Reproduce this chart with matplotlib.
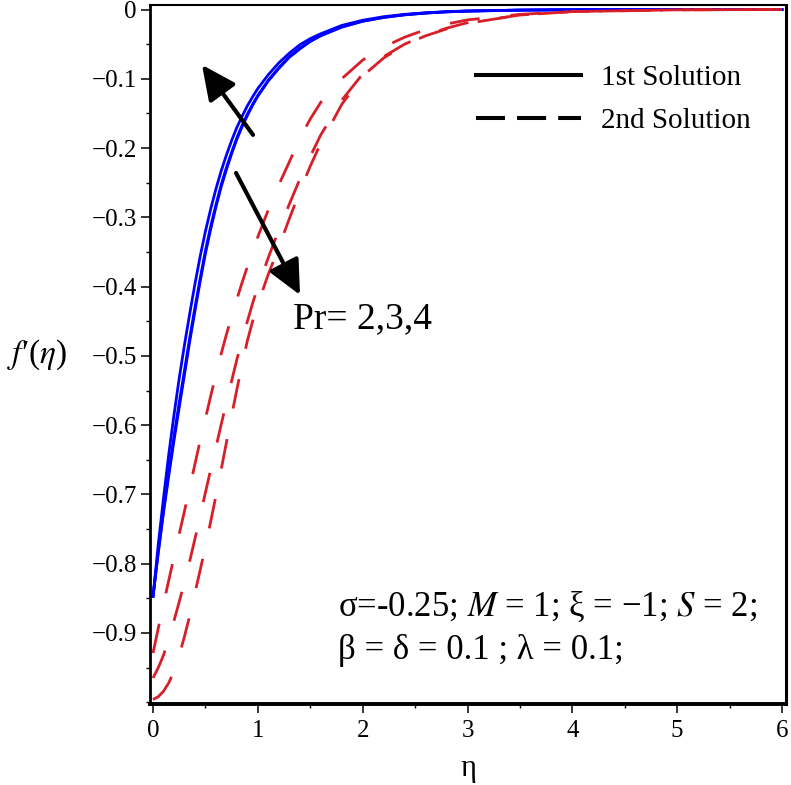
import matplotlib
matplotlib.use("Agg")
import matplotlib.pyplot as plt
from matplotlib.lines import Line2D
from matplotlib.ticker import FixedLocator, FixedFormatter, MultipleLocator

# Valores: f'(eta) para Pr = 2, 3, 4
eta = [0, 0.05, 0.1, 0.15, 0.2, 0.25, 0.3, 0.35, 0.4, 0.45, 0.5, 0.55, 0.6, 0.65,
       0.7, 0.75, 0.8, 0.85, 0.9, 0.95, 1.0, 1.1, 1.2, 1.3, 1.4, 1.5, 1.6, 1.8,
       2.0, 2.2, 2.4, 2.6, 2.8, 3.0, 3.5, 4.0, 5.0, 6.0]

# primeira solucao (linhas azuis cheias)
first_pr4 = [-0.847, -0.772, -0.705, -0.642, -0.585, -0.532, -0.484, -0.439, -0.396,
             -0.356, -0.320, -0.288, -0.259, -0.233, -0.210, -0.189, -0.170, -0.154,
             -0.139, -0.126, -0.114, -0.094, -0.077, -0.063, -0.051, -0.042, -0.035,
             -0.023, -0.0155, -0.0104, -0.007, -0.0047, -0.0031, -0.0021, -0.0008,
             -0.0003, 0.0, 0.0]
first_pr3 = [-0.847, -0.782, -0.722, -0.667, -0.616, -0.567, -0.521, -0.474, -0.430,
             -0.388, -0.348, -0.313, -0.282, -0.253, -0.228, -0.206, -0.185, -0.167,
             -0.151, -0.137, -0.124, -0.102, -0.084, -0.068, -0.056, -0.046, -0.037,
             -0.025, -0.0168, -0.0113, -0.0076, -0.0051, -0.0034, -0.0023, -0.0009,
             -0.0003, 0.0, 0.0]
first_pr2 = [-0.847, -0.784, -0.726, -0.673, -0.622, -0.574, -0.527, -0.479, -0.435,
             -0.392, -0.352, -0.317, -0.285, -0.256, -0.231, -0.208, -0.187, -0.169,
             -0.153, -0.138, -0.125, -0.103, -0.085, -0.069, -0.057, -0.046, -0.038,
             -0.0255, -0.017, -0.0115, -0.0077, -0.0052, -0.0034, -0.0023, -0.0009,
             -0.0003, 0.0, 0.0]

# segunda solucao (linhas vermelhas tracejadas)
second_pr2 = [-0.929, -0.893, -0.858, -0.824, -0.790, -0.757, -0.724, -0.690, -0.656,
              -0.622, -0.590, -0.558, -0.527, -0.497, -0.469, -0.443, -0.418, -0.394,
              -0.371, -0.349, -0.328, -0.289, -0.253, -0.220, -0.186, -0.158, -0.134,
              -0.100, -0.073, -0.054, -0.040, -0.029, -0.021, -0.015, -0.007, -0.003,
              -0.0005, 0.0]
second_pr3 = [-0.965, -0.950, -0.932, -0.908, -0.882, -0.855, -0.826, -0.796, -0.764,
              -0.731, -0.697, -0.664, -0.632, -0.599, -0.567, -0.536, -0.505, -0.477,
              -0.450, -0.424, -0.400, -0.358, -0.318, -0.281, -0.245, -0.212, -0.181,
              -0.131, -0.093, -0.068, -0.050, -0.037, -0.027, -0.019, -0.008, -0.003,
              -0.0005, 0.0]
second_pr4 = [-0.996, -0.992, -0.984, -0.972, -0.955, -0.932, -0.905, -0.875, -0.842,
              -0.809, -0.775, -0.739, -0.702, -0.664, -0.625, -0.586, -0.548, -0.512,
              -0.478, -0.450, -0.425, -0.382, -0.343, -0.302, -0.263, -0.226, -0.193,
              -0.137, -0.096, -0.070, -0.051, -0.038, -0.028, -0.020, -0.008, -0.003,
              -0.0005, 0.0]

xtick_values = [0, 1, 2, 3, 4, 5, 6]
xtick_labels = ['0', '1', '2', '3', '4', '5', '6']
ytick_values = [0, -0.1, -0.2, -0.3, -0.4, -0.5, -0.6, -0.7, -0.8, -0.9]
ytick_labels = ['0', '\u22120.1', '\u22120.2', '\u22120.3', '\u22120.4', '\u22120.5',
                '\u22120.6', '\u22120.7', '\u22120.8', '\u22120.9']

legend_labels = ['1st Solution', '2nd Solution']
params_line1 = '\u03c3=-0.25; $M$ = 1; \u03be = \u22121; $S$ = 2;'
params_line2 = '\u03b2 = \u03b4 = 0.1 ; \u03bb = 0.1;'

BLUE = '#0000ff'
RED = '#d81e28'


def plot_velocity_profile():
    plt.rcParams['font.family'] = ['Liberation Serif', 'DejaVu Serif']
    plt.rcParams['mathtext.fontset'] = 'stix'

    fig = plt.figure(figsize=(7.91, 7.85), dpi=100)
    ax = fig.add_axes([150 / 791, 1 - 704 / 785, 636 / 791, 699 / 785])

    # curvas
    for ys in (first_pr2, first_pr3, first_pr4):
        ax.plot(eta, ys, color=BLUE, lw=2.0)
    for ys in (second_pr2, second_pr3, second_pr4):
        ax.plot(eta, ys, color=RED, lw=2.0, dashes=(10.8, 11.2))

    ax.set_xlim(-0.029, 6.038)
    ax.set_ylim(-1.0025, 0.0065)

    # eixos e ticks
    ax.xaxis.set_major_locator(FixedLocator(xtick_values))
    ax.xaxis.set_major_formatter(FixedFormatter(xtick_labels))
    ax.yaxis.set_major_locator(FixedLocator(ytick_values))
    ax.yaxis.set_major_formatter(FixedFormatter(ytick_labels))
    ax.xaxis.set_minor_locator(MultipleLocator(0.5))
    ax.yaxis.set_minor_locator(MultipleLocator(0.05))
    ax.tick_params(which='major', direction='out', length=6.5, width=1.1,
                   labelsize=18, pad=3)
    ax.tick_params(axis='x', which='major', pad=5)
    ax.tick_params(which='minor', direction='out', length=3, width=1.0)

    ax.spines['left'].set_linewidth(2.0)
    ax.spines['bottom'].set_linewidth(2.8)
    ax.spines['top'].set_linewidth(1.5)
    ax.spines['right'].set_linewidth(2.2)

    ax.set_xlabel('\u03b7', fontsize=22, va='center')
    ax.xaxis.set_label_coords(0.5, -0.092)
    ax.set_ylabel('$f$\u2032($\\eta$)', fontsize=24, rotation=0,
                  ha='center', va='center')
    ax.yaxis.set_label_coords(-0.178, 0.5)

    # setas indicando o efeito de Pr
    ax.annotate('', xy=(0.467, -0.080), xytext=(0.954, -0.181),
                arrowprops=dict(arrowstyle='-|>,head_length=2.1,head_width=1.0',
                                mutation_scale=10, lw=3, color='black',
                                shrinkA=0, shrinkB=0))
    ax.annotate('', xy=(1.402, -0.412), xytext=(0.792, -0.236),
                arrowprops=dict(arrowstyle='-|>,head_length=2.1,head_width=1.0',
                                mutation_scale=10, lw=3, color='black',
                                shrinkA=0, shrinkB=0))
    ax.text(1.335, -0.4597, 'Pr= 2,3,4', fontsize=27, va='baseline', ha='left')

    ax.text(1.765, -0.8754, params_line1, fontsize=25, va='baseline', ha='left')
    ax.text(1.765, -0.9375, params_line2, fontsize=25, va='baseline', ha='left')

    # legenda
    handles = [Line2D([], [], color='black', lw=2.9),
               Line2D([], [], color='black', lw=2.9, dashes=(7.2, 3.0))]
    ax.legend(handles, legend_labels, loc='upper left',
              bbox_to_anchor=((476 - 150) / 636, (704 - 65) / 699),
              frameon=False, fontsize=21, handlelength=3.6, handletextpad=0.7,
              labelspacing=0.56, borderpad=0, borderaxespad=0)

    fig.savefig('out.png', dpi=100)
    plt.close(fig)


if __name__ == "__main__":
    plot_velocity_profile()
